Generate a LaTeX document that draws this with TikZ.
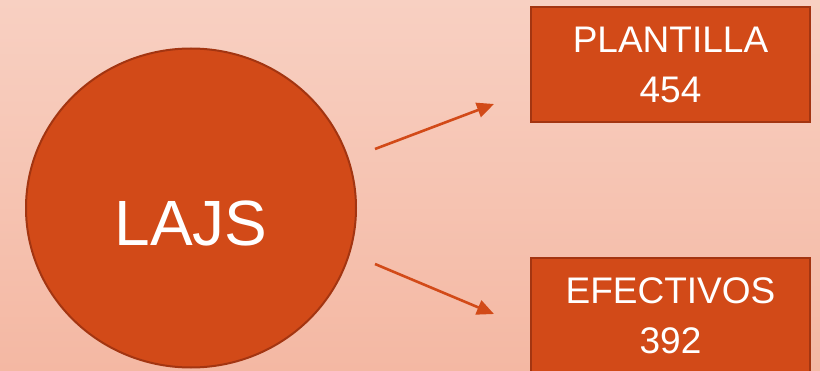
\documentclass[tikz,border=0pt]{standalone}
\usepackage{fontspec}
\setmainfont{Liberation Sans}
\usetikzlibrary{shapes.geometric,arrows.meta}
\definecolor{bgtop}{HTML}{F8D0C2}
\definecolor{bgbot}{HTML}{F4B8A3}
\definecolor{fillor}{HTML}{D24A18}
\definecolor{edgeor}{HTML}{A33511}
\tikzset{
  boxnode/.style={draw=edgeor, line width=2pt, fill=fillor, rectangle, minimum width=279pt, minimum height=115pt, inner sep=0pt, align=center, text=white, font=\fontsize{37}{50}\selectfont},
  circnode/.style={draw=edgeor, line width=2pt, fill=fillor, ellipse, minimum width=330pt, minimum height=319pt, inner sep=0pt},
  circtext/.style={text=white, font=\fontsize{64}{70}\selectfont, inner sep=0pt},
  arrowline/.style={draw=fillor, line width=2.6pt, -{Triangle[length=17pt,width=15pt]}}
}
\begin{document}
\begin{tikzpicture}[x=1pt,y=1pt]
\shade[top color=bgtop, bottom color=bgbot] (0,0) rectangle (820,370);
\useasboundingbox (0,0) rectangle (820,370);
\node[circnode, label={[circtext, yshift=-15pt]center:LAJS}] (lajs) at (191,162) {};
\node[boxnode] (plant) at (670.5,305.5) {PLANTILLA\\454};
\node[boxnode] (efec) at (670.5,54) {EFECTIVOS\\392};
\coordinate (a1s) at (375,221);
\coordinate (a1e) at (494,266);
\coordinate (a2s) at (375,106);
\coordinate (a2e) at (494,56);
\draw[arrowline] (a1s) -- (a1e);
\draw[arrowline] (a2s) -- (a2e);
\end{tikzpicture}
\end{document}
